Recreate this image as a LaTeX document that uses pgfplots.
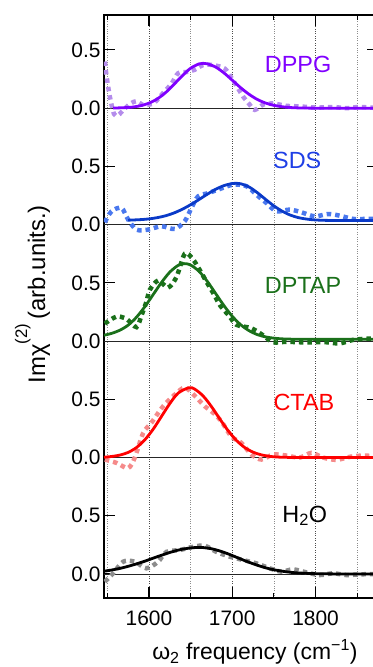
\documentclass[border=0pt]{standalone}
\usepackage{fontspec}
\setmainfont{Liberation Sans}
\usepackage{pgfplots}
\usepackage{pgfplotstable}
\pgfplotsset{compat=1.18}

\definecolor{dppg}{HTML}{8000FF}
\definecolor{dppgd}{HTML}{B48CEB}
\definecolor{sds}{HTML}{0A3AC8}
\definecolor{sdsl}{HTML}{1F3FE6}
\definecolor{sdsd}{HTML}{4A78EE}
\definecolor{dptap}{HTML}{1A701A}
\definecolor{ctab}{HTML}{FF0000}
\definecolor{ctabd}{HTML}{F58A8A}
\definecolor{h2od}{HTML}{8C8C8C}

\pgfplotstableread{
x y
1547 0.40
1549 0.28
1553 0.10
1558 -0.05
1563 -0.06
1570 -0.01
1578 0.04
1585 0.06
1592 0.03
1600 0.03
1607 0.05
1617 0.13
1627 0.21
1635 0.30
1645 0.31
1655 0.33
1665 0.37
1677 0.37
1691 0.34
1699 0.26
1707 0.17
1713 0.10
1721 0.03
1727 -0.015
1737 0.03
1749 0.04
1765 0.02
1781 0.015
1801 0.005
1821 0.01
1837 0.0
1853 0.01
1875 0.0
}\dppgdata

\pgfplotstableread{
x y
1557 0.001
1570 0.004
1580 0.009
1590 0.021
1600 0.043
1610 0.080
1620 0.134
1630 0.204
1640 0.278
1650 0.343
1660 0.380
1665 0.385
1670 0.381
1680 0.353
1690 0.303
1700 0.240
1710 0.176
1720 0.120
1730 0.075
1740 0.044
1750 0.024
1760 0.012
1770 0.005
1780 0.002
1790 0.001
1800 0.0
1875 0.0
}\dppgfit

\pgfplotstableread{
x y
1547 0.02
1555 0.114
1567 0.143
1575 0.043
1585 -0.043
1599 -0.043
1615 -0.014
1631 -0.037
1643 0.03
1651 0.143
1659 0.243
1671 0.27
1685 0.306
1701 0.343
1717 0.33
1729 0.257
1741 0.186
1753 0.114
1769 0.129
1783 0.106
1799 0.071
1815 0.091
1829 0.077
1845 0.049
1861 0.049
1875 0.05
}\sdsdata

\pgfplotstableread{
x y
1575 0.038
1590 0.043
1600 0.049
1610 0.060
1620 0.076
1630 0.100
1640 0.132
1650 0.171
1660 0.215
1670 0.261
1680 0.303
1690 0.335
1700 0.353
1705 0.355
1710 0.351
1720 0.324
1730 0.275
1740 0.217
1750 0.161
1760 0.115
1770 0.081
1780 0.059
1790 0.047
1800 0.040
1810 0.037
1820 0.036
1875 0.035
}\sdsfit

\pgfplotstableread{
x y
1547 0.15
1561 0.21
1573 0.19
1585 0.12
1591 0.22
1597 0.34
1601 0.44
1611 0.52
1623 0.46
1633 0.55
1643 0.75
1652 0.71
1661 0.61
1669 0.51
1679 0.39
1685 0.31
1697 0.21
1705 0.14
1723 0.11
1737 0.05
1749 -0.01
1765 -0.006
1781 -0.01
1797 -0.01
1813 -0.01
1829 -0.02
1845 0.01
1861 0.02
1875 0.02
}\dptapdata

\pgfplotstableread{
x y
1546 0.050
1555 0.066
1565 0.093
1575 0.137
1585 0.205
1595 0.295
1605 0.399
1615 0.503
1625 0.592
1635 0.650
1643 0.665
1650 0.653
1660 0.600
1670 0.513
1680 0.409
1690 0.305
1700 0.213
1710 0.141
1720 0.090
1730 0.056
1740 0.036
1750 0.025
1760 0.019
1770 0.017
1780 0.015
1875 0.015
}\dptapfit

\pgfplotstableread{
x y
1547 -0.017
1561 -0.046
1575 -0.09
1583 0.0
1593 0.21
1603 0.30
1617 0.44
1631 0.54
1643 0.60
1655 0.53
1667 0.44
1677 0.385
1687 0.31
1699 0.18
1711 0.126
1723 0.026
1735 -0.017
1749 0.026
1765 0.017
1781 0.0
1795 0.04
1809 0.0
1825 -0.02
1841 0.006
1857 0.017
1875 0.01
}\ctabdata

\pgfplotstableread{
x y
1546 0.003
1555 0.009
1565 0.021
1575 0.044
1585 0.086
1595 0.152
1605 0.243
1615 0.353
1625 0.463
1635 0.553
1648 0.600
1655 0.587
1665 0.529
1675 0.438
1685 0.332
1695 0.231
1705 0.147
1715 0.086
1725 0.046
1735 0.023
1745 0.010
1755 0.004
1765 0.002
1780 0.0
1875 0.0
}\ctabfit

\pgfplotstableread{
x y
1547 -0.066
1557 0.006
1569 0.106
1583 0.106
1597 0.049
1611 0.106
1621 0.19
1637 0.206
1653 0.234
1667 0.243
1681 0.19
1697 0.149
1713 0.12
1729 0.091
1745 0.049
1759 0.02
1773 0.04
1789 0.014
1805 -0.009
1821 0.006
1837 -0.009
1853 -0.003
1875 0.0
}\hwdata

\pgfplotstableread{
x y
1546 0.024
1555 0.034
1565 0.048
1575 0.066
1585 0.087
1595 0.110
1605 0.136
1615 0.161
1625 0.185
1635 0.205
1645 0.219
1655 0.227
1660 0.228
1665 0.227
1675 0.217
1685 0.198
1695 0.173
1705 0.144
1715 0.115
1725 0.088
1735 0.064
1745 0.044
1755 0.030
1765 0.019
1775 0.011
1785 0.007
1800 0.003
1820 0.001
1840 0.0
1875 0.0
}\hwfit

\begin{document}
\begin{tikzpicture}
\begin{axis}[
  name=ax,
  at={(0,0)}, anchor=south west,
  scale only axis, width=274bp, height=583bp,
  xmin=1546, xmax=1875, ymin=-0.206, ymax=4.80,
  xtick={1600,1700,1800}, xticklabels={1600,1700,1800},
  minor xtick={1550,1650,1750,1850},
  ytick={0,0.5,1,1.5,2,2.5,3,3.5,4,4.5},
  yticklabels={0.0,0.5,0.0,0.5,0.0,0.5,0.0,0.5,0.0,0.5},
  tick align=inside,
  major tick length=11bp, minor tick length=5bp,
  every tick/.style={black, line width=1.1bp},
  xmajorgrids, xminorgrids,
  major grid style={black!70, dotted, line width=0.6bp},
  minor grid style={black!45, dotted, line width=0.6bp},
  axis line style={line width=1.4bp},
  tick label style={font=\fontsize{21}{24}\selectfont},
  xticklabel style={yshift=-9bp},
  xlabel={ω\textsubscript{2} frequency (cm\textsuperscript{−1})},
  xlabel style={at={(axis description cs:0.551,-0.106)}, anchor=base, font=\fontsize{23}{27}\selectfont},
  ylabel={Imχ\raisebox{0.7ex}{\textsuperscript{(2)}}\,(arb.units.)},
  ylabel style={at={(axis description cs:-0.2153,0.521)}, anchor=base, font=\fontsize{24}{28}\selectfont},
  dotstyle/.style={line width=4.5bp, dash pattern=on 4.5bp off 4bp, smooth},
  fitstyle/.style={line width=2.8bp, smooth},
]
\addplot[black!85, line width=1bp, forget plot] coordinates {(1546,0) (1875,0)};
\addplot[black!85, line width=1bp, forget plot] coordinates {(1546,1) (1875,1)};
\addplot[black!85, line width=1bp, forget plot] coordinates {(1546,2) (1875,2)};
\addplot[black!85, line width=1bp, forget plot] coordinates {(1546,3) (1875,3)};
\addplot[black!85, line width=1bp, forget plot] coordinates {(1546,4) (1875,4)};

\addplot[dotstyle, dppgd] table[x index=0, y expr=\thisrowno{1}+4] {\dppgdata};
\addplot[fitstyle, dppg] table[x index=0, y expr=\thisrowno{1}+4] {\dppgfit};
\addplot[dotstyle, sdsd] table[x index=0, y expr=\thisrowno{1}+3] {\sdsdata};
\addplot[fitstyle, sds] table[x index=0, y expr=\thisrowno{1}+3] {\sdsfit};
\addplot[dotstyle, dptap] table[x index=0, y expr=\thisrowno{1}+2] {\dptapdata};
\addplot[fitstyle, dptap] table[x index=0, y expr=\thisrowno{1}+2] {\dptapfit};
\addplot[dotstyle, ctabd] table[x index=0, y expr=\thisrowno{1}+1] {\ctabdata};
\addplot[fitstyle, ctab] table[x index=0, y expr=\thisrowno{1}+1] {\ctabfit};
\addplot[dotstyle, h2od] table[x index=0, y expr=\thisrowno{1}] {\hwdata};
\addplot[fitstyle, black] table[x index=0, y expr=\thisrowno{1}] {\hwfit};

\node[anchor=base, text=dppg, font=\fontsize{23.5}{28}\selectfont] at (axis cs:1779,4.309) {DPPG};
\node[anchor=base, text=sdsl, font=\fontsize{23.5}{28}\selectfont] at (axis cs:1778,3.485) {SDS};
\node[anchor=base, text=dptap, font=\fontsize{23.5}{28}\selectfont] at (axis cs:1785,2.412) {DPTAP};
\node[anchor=base, text=ctab, font=\fontsize{23.5}{28}\selectfont] at (axis cs:1786,1.408) {CTAB};
\node[anchor=base, text=black, font=\fontsize{23.5}{28}\selectfont] at (axis cs:1787,0.446) {H\textsubscript{2}O};
\end{axis}
\pgfresetboundingbox
\useasboundingbox ([xshift=-104bp,yshift=-69bp]ax.south west) rectangle ([xshift=-5bp,yshift=15bp]ax.north east);
\end{tikzpicture}
\end{document}
